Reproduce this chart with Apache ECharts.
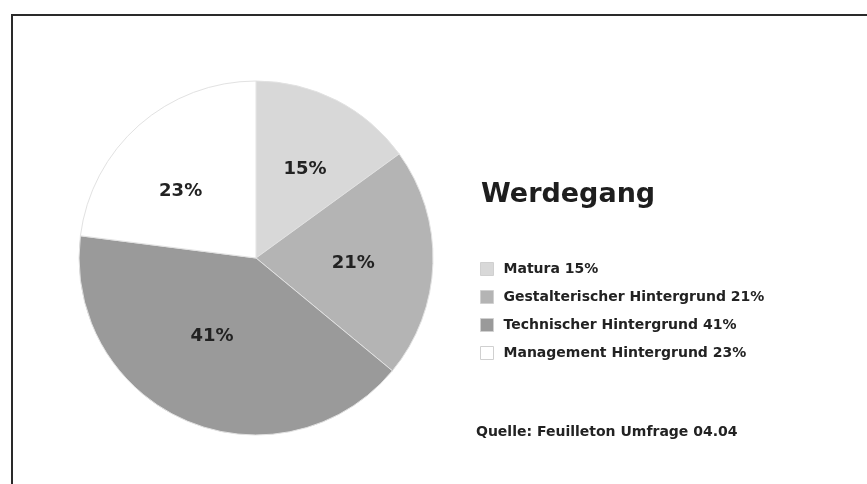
<!DOCTYPE html>
<html>
<head>
<meta charset="utf-8">
<script src="https://cdn.jsdelivr.net/npm/echarts@6/dist/echarts.min.js"></script>
<style>
  html, body { margin: 0; padding: 0; background: #fff; }
  #chart { width: 867px; height: 484px; }
</style>
</head>
<body>
<div id="chart"></div>
<script>
  // Werdegang - Anteile in Prozent
  const categories = ["Matura", "Gestalterischer Hintergrund", "Technischer Hintergrund", "Management Hintergrund"];
  const values = [15, 21, 41, 23];
  const colors = ["#d8d8d8", "#b4b4b4", "#9a9a9a", "#ffffff"];
  // small nudges so the percent labels sit where the original puts them
  const labelNudge = [[2, 3], [-6, 2], [-3, -17], [-7, 11]];

  const cx = 256, cy = 258, radius = 177;
  const font = "DejaVu Sans";

  const chart = echarts.init(document.getElementById("chart"));

  const option = {
    backgroundColor: "#ffffff",
    animation: false,
    color: colors,
    title: [
      {
        text: "Werdegang",
        left: 476,
        top: 176,
        textStyle: { fontFamily: font, fontWeight: "bold", fontSize: 27, color: "#1e1e1e" }
      },
      {
        text: "Quelle: Feuilleton Umfrage 04.04",
        left: 471,
        top: 420,
        textStyle: { fontFamily: font, fontWeight: "bold", fontSize: 14, color: "#222" }
      }
    ],
    legend: {
      orient: "vertical",
      left: 475,
      top: 257,
      itemWidth: 13,
      itemHeight: 13,
      itemGap: 14,
      icon: "rect",
      selectedMode: false,
      formatter: (name) => name + " " + values[categories.indexOf(name)] + "%",
      textStyle: { fontFamily: font, fontWeight: "bold", fontSize: 14, color: "#222", padding: [0, 0, 0, 5] },
      itemStyle: { borderColor: "#d0d0d0", borderWidth: 1 }
    },
    graphic: [
      {
        type: "polyline",
        shape: { points: [[12, 484], [12, 15], [867, 15]] },
        style: { stroke: "#2a2a2a", lineWidth: 2, fill: null },
        silent: true
      }
    ],
    series: [
      {
        type: "pie",
        center: [cx, cy],
        radius: [0, radius],
        startAngle: 90,
        clockwise: true,
        silent: true,
        itemStyle: { borderColor: "#e2e2e2", borderWidth: 1 },
        label: {
          show: true,
          position: "inside",
          formatter: "{c}%",
          fontFamily: font,
          fontWeight: "bold",
          fontSize: 18,
          color: "#222"
        },
        labelLine: { show: false },
        // push labels slightly outward from the middle radius
        labelLayout: (p) => {
          const r = p.labelRect;
          const lx = r.x + r.width / 2, ly = r.y + r.height / 2;
          const n = labelNudge[p.dataIndex];
          return { dx: (lx - cx) * 0.13 + n[0], dy: (ly - cy) * 0.13 + n[1] };
        },
        data: categories.map((name, i) => ({ name: name, value: values[i] }))
      }
    ]
  };

  chart.setOption(option);
</script>
</body>
</html>
